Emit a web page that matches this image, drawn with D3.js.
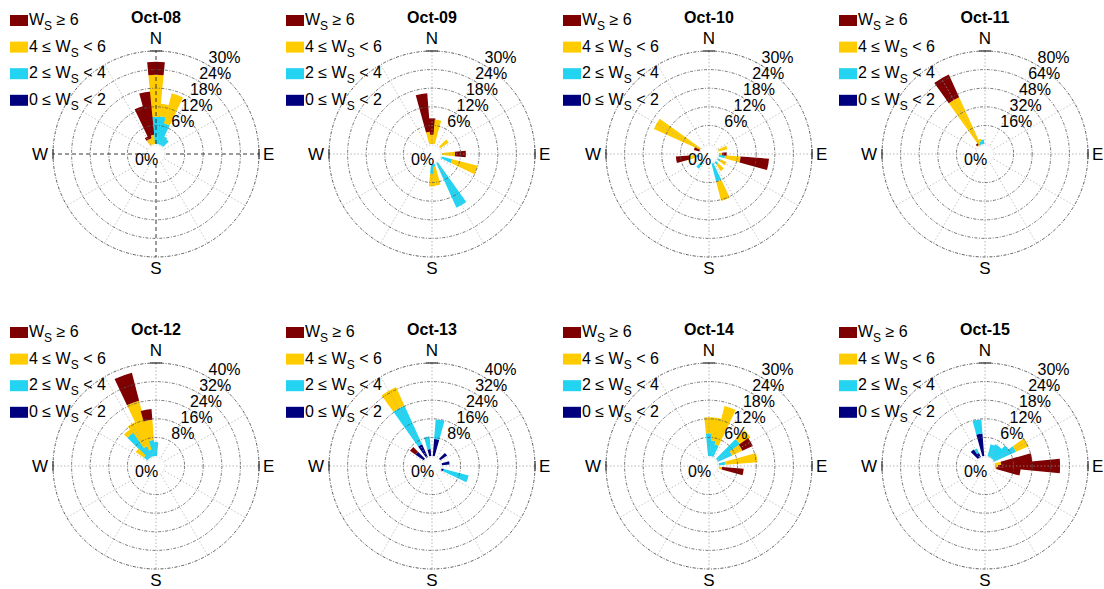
<!DOCTYPE html>
<html>
<head>
<meta charset="utf-8">
<script src="https://cdn.jsdelivr.net/npm/d3@7"></script>
<style>
  body { margin: 0; background: #fff; }
  text { font-family: "Liberation Sans", Arial, sans-serif; }
</style>
</head>
<body>
<script>
// rows: [direction (deg from N), 0-2, 2-4, 4-6, >=6]  (% of time)
const oct08 = [
  [330, 0, 0, 2, 1], [340, 0, 0, 2, 10.8], [350, 0, 0, 3, 14],
  [0, 0, 8.8, 13.5, 4.2], [10, 0, 9, 4, 0], [20, 0, 7, 10, 0],
  [30, 0, 3, 0, 0], [40, 0, 2.5, 0, 0]
];
const oct09 = [
  [350, 0, 0, 4, 12.4], [0, 0, 0, 3, 5.3], [10, 0, 0, 7.9, 0],
  [50, 0, 0, 3.3, 0], [90, 0, 0, 4.2, 3.5], [110, 0, 3.5, 8.5, 0],
  [150, 0, 15.8, 0, 0], [170, 0, 1, 6, 0], [180, 0, 3.2, 4, 0]
];
const oct10 = [
  [300, 0, 0, 16.3, 0], [290, 0, 0, 0, 1.8], [260, 0, 1, 2, 4.5],
  [220, 0, 2.5, 0, 0], [160, 0, 6, 6.4, 0], [140, 0, 1, 2.5, 0],
  [120, 0, 1, 2, 0], [100, 0, 2, 5, 9.2], [70, 0, 0, 2.9, 0], [90, 0, 0, 1, 1.5]
];
const oct11 = [
  [330, 0, 1, 44, 21.5], [340, 0, 3, 2, 0], [350, 0, 4, 0, 0], [320, 0, 0, 1, 1.5]
];
const oct12 = [
  [340, 0, 3, 21.7, 12.4], [350, 0, 6.9, 8.7, 4.7], [330, 0, 5, 11.6, 0],
  [320, 0, 13, 2, 0], [310, 0, 2, 4.3, 0], [0, 0, 6, 0, 0]
];
const oct13 = [
  [330, 6, 18.3, 8.7, 0], [310, 4.3, 0, 0, 2.9], [350, 3, 5.4, 0, 0],
  [10, 7.3, 8.5, 0, 0], [50, 3.6, 0, 0, 0], [80, 3.3, 0, 0, 0], [110, 1, 11, 0, 0]
];
const oct14 = [
  [0, 0, 7.3, 5.2, 0], [10, 0, 5, 7.5, 0], [20, 0, 4, 12.8, 0],
  [50, 0, 9, 4, 0], [60, 0, 5, 3.6, 3.7], [80, 0, 2, 10.5, 0], [100, 0, 0, 1, 7]
];
const oct15 = [
  [90, 0, 0, 1, 20], [80, 0, 0, 2, 10.1], [100, 0, 0, 0.5, 7.8],
  [60, 0, 7.8, 4.4, 0], [20, 0, 4, 0, 0], [30, 0, 4.5, 0, 0], [40, 0, 4.5, 0, 0],
  [50, 0, 6, 0, 0], [350, 7.3, 4.5, 0, 0], [330, 1.5, 1.5, 0, 0], [320, 3.2, 0, 0, 0]
];

const titles = ["Oct-08", "Oct-09", "Oct-10", "Oct-11", "Oct-12", "Oct-13", "Oct-14", "Oct-15"];
const panelData = [oct08, oct09, oct10, oct11, oct12, oct13, oct14, oct15];
const ticks30 = [6, 12, 18, 24, 30];
const ticks40 = [8, 16, 24, 32, 40];
const ticks80 = [16, 32, 48, 64, 80];
const panelTicks = [ticks30, ticks30, ticks30, ticks80, ticks40, ticks40, ticks30, ticks30];
const colors = ["#00007f", "#22d3f2", "#ffcc00", "#7f0000"];
// legend rows, top to bottom: [before, after, colour index] around "W_S"
const legendRows = [["", " \u2265 6", 3], ["4 \u2264 ", " < 6", 2], ["2 \u2264 ", " < 4", 1], ["0 \u2264 ", " < 2", 0]];

const colX = [156, 432, 709, 985];
const rowY = [154, 466];
const R = 103, r0 = 10;
const binWidth = 11;
const rad = Math.PI / 180;

const svg = d3.select("body").append("svg")
  .attr("width", 1104)
  .attr("height", 589);

panelData.forEach((data, i) => {
  const cx = colX[i % 4], cy = rowY[Math.floor(i / 4)];
  const ticks = panelTicks[i];
  const g = svg.append("g").attr("transform", `translate(${cx},${cy})`);

  const r = d3.scaleLinear()
    .domain([0, d3.max(ticks)])
    .range([r0, R]);

  // stacked segments
  const segs = [];
  data.forEach(row => {
    let cum = 0;
    row.slice(1).forEach((v, k) => {
      if (v > 0) segs.push({dir: row[0], k: k, inner: cum, outer: cum + v});
      cum += v;
    });
  });

  const arc = d3.arc();
  g.selectAll("path.bar")
    .data(segs)
    .join("path")
    .attr("class", "bar")
    .attr("d", d => arc({
      innerRadius: r(d.inner),
      outerRadius: r(d.outer),
      startAngle: (d.dir - binWidth / 2) * rad,
      endAngle: (d.dir + binWidth / 2) * rad
    }))
    .attr("fill", d => colors[d.k]);

  // spokes every 30 degrees
  const spokes = d3.range(0, 360, 30);
  g.selectAll("line.spoke")
    .data(spokes)
    .join("line")
    .attr("class", "spoke")
    .attr("x1", a => r0 * Math.sin(a * rad))
    .attr("y1", a => -r0 * Math.cos(a * rad))
    .attr("x2", a => R * Math.sin(a * rad))
    .attr("y2", a => -R * Math.cos(a * rad))
    .attr("stroke", a => (a % 90 === 0) ? (i === 0 ? "#222" : "#999") : "#aaa")
    .attr("stroke-width", a => (a % 90 === 0 && i === 0) ? 0.9 : 0.7)
    .attr("stroke-dasharray", a => (a % 90 === 0 && i === 0) ? "4,3" : "1.5,2");

  // rings
  g.selectAll("circle.ring")
    .data(ticks)
    .join("circle")
    .attr("class", "ring")
    .attr("r", d => r(d))
    .attr("fill", "none")
    .attr("stroke", (d, j) => j === ticks.length - 1 ? "#333" : "#555")
    .attr("stroke-width", 0.8)
    .attr("stroke-dasharray", "3,1.5,1,1.5");

  g.append("circle")
    .attr("r", r0 - 1)
    .attr("fill", "none")
    .attr("stroke", "#bbb")
    .attr("stroke-width", 0.6)
    .attr("stroke-dasharray", "1.5,1.5");

  // compass ticks
  g.append("line").attr("x1", -6).attr("x2", 6).attr("y1", -R).attr("y2", -R)
    .attr("stroke", "#333").attr("stroke-width", 1.2);
  g.append("line").attr("x1", R).attr("x2", R).attr("y1", -5).attr("y2", 5)
    .attr("stroke", "#333").attr("stroke-width", 1.2);
  g.append("line").attr("x1", -R).attr("x2", -R).attr("y1", -5).attr("y2", 5)
    .attr("stroke", "#333").attr("stroke-width", 1.2);

  // compass labels
  const compass = [["N", 0, -R - 7, "middle"], ["S", 0, R + 17, "middle"],
                   ["E", R + 4, 6, "start"], ["W", -R - 5, 6, "end"]];
  g.selectAll("text.compass")
    .data(compass)
    .join("text")
    .attr("class", "compass")
    .attr("x", d => d[1])
    .attr("y", d => d[2])
    .attr("text-anchor", d => d[3])
    .attr("font-size", 17)
    .text(d => d[0]);

  // percent labels along 30 degree spoke
  g.selectAll("text.pct")
    .data(ticks)
    .join("text")
    .attr("class", "pct")
    .attr("x", d => r(d) * Math.sin(30 * rad) + 1)
    .attr("y", d => -r(d) * Math.cos(30 * rad) - 2)
    .attr("font-size", 16)
    .text(d => d + "%");

  g.append("text")
    .attr("x", -21)
    .attr("y", 11)
    .attr("font-size", 16)
    .text("0%");

  // title
  g.append("text")
    .attr("x", 0)
    .attr("y", -131)
    .attr("text-anchor", "middle")
    .attr("font-size", 16)
    .attr("font-weight", 700)
    .text(titles[i]);

  // legend
  const leg = g.append("g").attr("transform", `translate(-146,-139)`);
  legendRows.forEach((row, j) => {
    const y = j * 26.6;
    leg.append("rect")
      .attr("x", 0).attr("y", y)
      .attr("width", 18).attr("height", 11)
      .attr("fill", colors[row[2]]);
    const t = leg.append("text")
      .attr("x", 19).attr("y", y + 10)
      .attr("font-size", 16);
    t.append("tspan").text(row[0] + "W");
    t.append("tspan").attr("font-size", 12).attr("dy", 5).text("S");
    t.append("tspan").attr("dy", -5).text(row[1]);
  });
});
</script>
</body>
</html>
